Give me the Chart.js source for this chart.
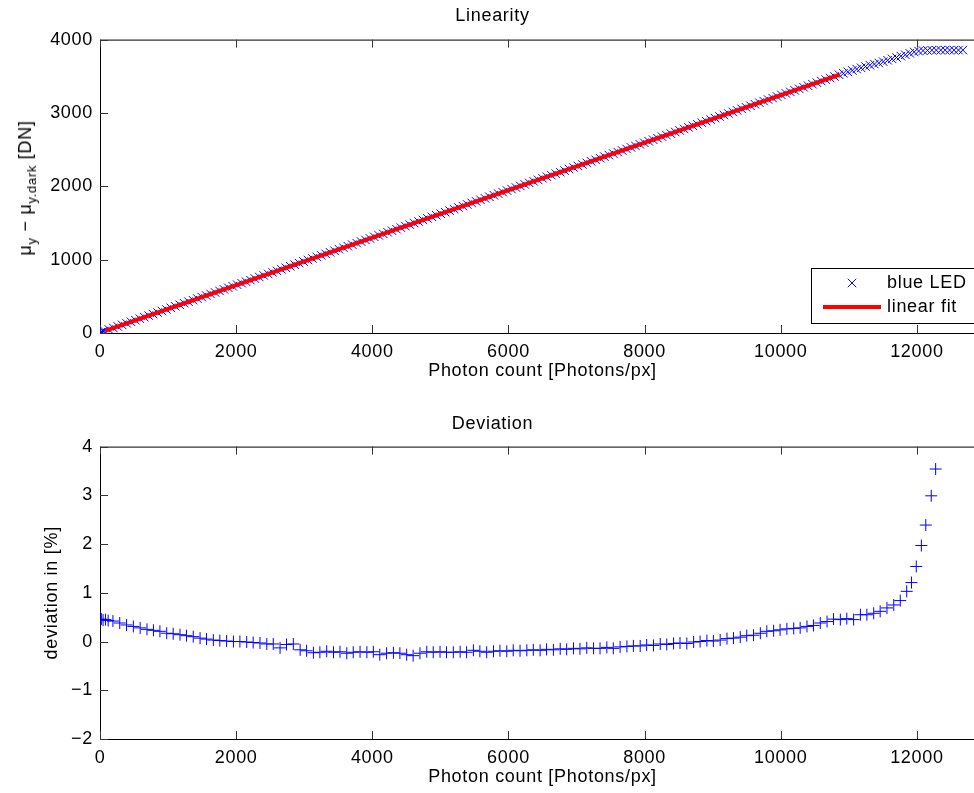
<!DOCTYPE html>
<html>
<head>
<meta charset="utf-8">
<title>Linearity / Deviation</title>
<script src="https://cdn.jsdelivr.net/npm/chart.js"></script>
<style>
  body{margin:0;background:#fff;overflow:hidden;width:974px;height:793px;position:relative;}
  canvas{position:absolute;left:0;}
  #linChart{top:0;}
  #devChart{top:400px;}
  #yLabelTop{position:absolute;left:25px;top:188px;transform:translate(-50%,-50%) rotate(-90deg);
    font:18px "Liberation Sans",Arial,sans-serif;letter-spacing:0.7px;white-space:nowrap;color:#000;line-height:20px;}
  #yLabelTop sub{font-size:13px;line-height:0;}
</style>
</head>
<body>
<canvas id="linChart" width="1000" height="382"></canvas>
<canvas id="devChart" width="1000" height="388"></canvas>
<div id="yLabelTop">&mu;<sub>y</sub> &minus; &mu;<sub>y.dark</sub> [DN]</div>

<script>
// linearity sweep: photon count [Photons/px]
var ledPhotons = [0, 12, 30, 48, 65, 130, 195, 260, 325, 390,
  455, 520, 585, 650, 715, 780, 845, 910, 975, 1040,
  1105, 1170, 1235, 1300, 1365, 1430, 1495, 1560, 1625, 1690,
  1755, 1820, 1885, 1950, 2015, 2080, 2145, 2210, 2275, 2340,
  2405, 2470, 2535, 2600, 2665, 2730, 2795, 2860, 2925, 2990,
  3055, 3120, 3185, 3250, 3315, 3380, 3445, 3510, 3575, 3640,
  3705, 3770, 3835, 3900, 3965, 4030, 4095, 4160, 4225, 4290,
  4355, 4420, 4485, 4550, 4615, 4680, 4745, 4810, 4875, 4940,
  5005, 5070, 5135, 5200, 5265, 5330, 5395, 5460, 5525, 5590,
  5655, 5720, 5785, 5850, 5915, 5980, 6045, 6110, 6175, 6240,
  6305, 6370, 6435, 6500, 6565, 6630, 6695, 6760, 6825, 6890,
  6955, 7020, 7085, 7150, 7215, 7280, 7345, 7410, 7475, 7540,
  7605, 7670, 7735, 7800, 7865, 7930, 7995, 8060, 8125, 8190,
  8255, 8320, 8385, 8450, 8515, 8580, 8645, 8710, 8775, 8840,
  8905, 8970, 9035, 9100, 9165, 9230, 9295, 9360, 9425, 9490,
  9555, 9620, 9685, 9750, 9815, 9880, 9945, 10010, 10075, 10140,
  10205, 10270, 10335, 10400, 10465, 10530, 10595, 10660, 10725, 10790,
  10855, 10920, 10985, 11050, 11115, 11180, 11245, 11310, 11375, 11440,
  11505, 11570, 11635, 11700, 11765, 11830, 11895, 11960, 12025, 12090,
  12155, 12220, 12285, 12350, 12415, 12480, 12545, 12610, 12675];

// mu_y - mu_y.dark [DN] (blue LED)
var ledSignal = [4, 9, 15, 21, 27, 48, 69, 90, 111, 132,
  153, 174, 195, 216, 237, 258, 279, 300, 321, 343,
  364, 385, 406, 427, 448, 469, 490, 511, 532, 553,
  574, 595, 616, 637, 658, 679, 700, 721, 742, 763,
  784, 805, 826, 847, 868, 889, 910, 931, 953, 974,
  995, 1016, 1037, 1058, 1079, 1100, 1121, 1142, 1163, 1184,
  1205, 1226, 1247, 1268, 1289, 1310, 1331, 1352, 1373, 1394,
  1415, 1436, 1457, 1478, 1499, 1520, 1541, 1563, 1584, 1605,
  1626, 1647, 1668, 1689, 1710, 1731, 1752, 1773, 1794, 1815,
  1836, 1857, 1878, 1899, 1920, 1941, 1962, 1983, 2004, 2025,
  2046, 2067, 2088, 2109, 2130, 2151, 2172, 2193, 2214, 2235,
  2256, 2277, 2298, 2319, 2340, 2362, 2383, 2404, 2425, 2446,
  2467, 2488, 2509, 2530, 2551, 2572, 2593, 2614, 2635, 2656,
  2677, 2698, 2719, 2740, 2761, 2782, 2803, 2824, 2845, 2867,
  2888, 2909, 2930, 2951, 2972, 2993, 3014, 3035, 3056, 3077,
  3098, 3119, 3140, 3161, 3182, 3203, 3224, 3245, 3266, 3287,
  3308, 3329, 3350, 3371, 3392, 3413, 3434, 3455, 3476, 3497,
  3522, 3540, 3560, 3580, 3598, 3615, 3633, 3650, 3666, 3681,
  3699, 3718, 3737, 3756, 3774, 3793, 3813, 3831, 3843, 3850,
  3853, 3855, 3856, 3856, 3857, 3857, 3856, 3857, 3857];

// linear fit end points
var fitPhotons = [75, 10865];
var fitSignal = [30, 3522];

// deviation sweep: photon count [Photons/px]
var devPhotons = [0, 20, 45, 80, 120, 190, 290, 390, 490, 590,
  690, 785, 880, 980, 1075, 1175, 1270, 1370, 1470, 1565,
  1665, 1760, 1860, 1960, 2055, 2155, 2250, 2350, 2450, 2545,
  2645, 2740, 2840, 2940, 3035, 3135, 3230, 3330, 3430, 3525,
  3625, 3720, 3820, 3920, 4015, 4110, 4210, 4310, 4405, 4505,
  4600, 4700, 4800, 4895, 4995, 5090, 5190, 5290, 5385, 5485,
  5580, 5680, 5780, 5875, 5975, 6070, 6170, 6270, 6365, 6465,
  6560, 6660, 6760, 6855, 6955, 7050, 7150, 7250, 7345, 7445,
  7540, 7640, 7740, 7835, 7935, 8030, 8130, 8230, 8325, 8425,
  8520, 8620, 8720, 8815, 8915, 9010, 9110, 9210, 9305, 9405,
  9500, 9600, 9700, 9795, 9895, 9990, 10090, 10190, 10285, 10385,
  10480, 10580, 10680, 10775, 10875, 10970, 11070, 11170, 11265, 11365,
  11460, 11560, 11660, 11755, 11850, 11920, 11990, 12065, 12130, 12210,
  12275];

// deviation from the fit [%]
var deviation = [0.45, 0.46, 0.44, 0.45, 0.43, 0.42, 0.38, 0.34, 0.31, 0.28,
  0.25, 0.23, 0.21, 0.17, 0.16, 0.14, 0.12, 0.10, 0.07, 0.05,
  0.03, 0.02, 0.01, 0.00, 0.00, -0.01, -0.02, -0.03, -0.05, -0.05,
  -0.13, -0.06, -0.05, -0.17, -0.19, -0.23, -0.22, -0.20, -0.22, -0.21,
  -0.24, -0.22, -0.21, -0.22, -0.21, -0.27, -0.24, -0.23, -0.24, -0.27,
  -0.29, -0.24, -0.21, -0.22, -0.21, -0.22, -0.22, -0.21, -0.22, -0.18,
  -0.20, -0.22, -0.20, -0.19, -0.20, -0.18, -0.19, -0.18, -0.17, -0.18,
  -0.16, -0.17, -0.15, -0.16, -0.14, -0.15, -0.13, -0.14, -0.14, -0.12,
  -0.14, -0.11, -0.10, -0.09, -0.09, -0.07, -0.08, -0.05, -0.06, -0.04,
  -0.03, -0.04, -0.01, 0.00, 0.02, 0.01, 0.03, 0.06, 0.07, 0.09,
  0.12, 0.13, 0.17, 0.21, 0.22, 0.24, 0.26, 0.27, 0.28, 0.31,
  0.33, 0.38, 0.41, 0.46, 0.45, 0.47, 0.45, 0.55, 0.55, 0.58,
  0.62, 0.69, 0.75, 0.84, 1.03, 1.21, 1.54, 1.97, 2.39, 2.99,
  3.54];

var xTicks = [0, 2000, 4000, 6000, 8000, 10000, 12000];
var linTicks = [0, 1000, 2000, 3000, 4000];
var devTicks = [-2, -1, 0, 1, 2, 3, 4];

var FONT = '"Liberation Sans", Arial, Helvetica, sans-serif';
Chart.defaults.font.family = FONT;
Chart.defaults.font.size = 18;
Chart.defaults.color = '#000';

function toPoints(xs, ys){
  var pts = [];
  for (var i = 0; i < ys.length; i++) {
    pts.push({x: xs[i], y: ys[i]});
  }
  return pts;
}

function plainNumber(v){
  return String(v).replace('-', '\u2212');
}

// matlab style box with ticks pointing inwards
var boxPlugin = {
  id: 'matlabBox',
  beforeDatasetsDraw: function(chart){
    var ctx = chart.ctx;
    var a = chart.chartArea;
    var xs = chart.scales.x, ys = chart.scales.y;
    ctx.save();
    ctx.strokeStyle = '#000';
    ctx.lineWidth = 1;
    ctx.strokeRect(a.left + 0.5, a.top + 0.5, a.right - a.left, a.bottom - a.top);
    ctx.strokeStyle = '#333';
    ctx.beginPath();
    xs.ticks.forEach(function(t){
      var px = Math.round(xs.getPixelForValue(t.value)) + 0.5;
      ctx.moveTo(px, a.bottom); ctx.lineTo(px, a.bottom - 8);
      ctx.moveTo(px, a.top); ctx.lineTo(px, a.top + 8);
    });
    ys.ticks.forEach(function(t){
      var py = Math.round(ys.getPixelForValue(t.value)) + 0.5;
      ctx.moveTo(a.left, py); ctx.lineTo(a.left + 8, py);
      ctx.moveTo(a.right, py); ctx.lineTo(a.right - 8, py);
    });
    ctx.stroke();
    ctx.restore();
  }
};

// legend box inside the axes, bottom right
var legendPlugin = {
  id: 'boxLegend',
  afterDraw: function(chart){
    var ctx = chart.ctx;
    var a = chart.chartArea;
    var x0 = a.right - 174, y0 = a.bottom - 65;
    ctx.save();
    ctx.fillStyle = '#fff';
    ctx.fillRect(x0, y0, 168, 55);
    ctx.strokeStyle = '#000';
    ctx.lineWidth = 1;
    ctx.strokeRect(x0 + 0.5, y0 + 0.5, 168, 55);
    chart.data.datasets.forEach(function(ds, i){
      var cy = y0 + 15 + i * 24;
      if (ds.showLine) {
        ctx.strokeStyle = ds.borderColor;
        ctx.lineWidth = ds.borderWidth;
        ctx.beginPath();
        ctx.moveTo(x0 + 12, cy);
        ctx.lineTo(x0 + 70, cy);
        ctx.stroke();
      } else {
        ctx.strokeStyle = ds.pointBorderColor;
        ctx.lineWidth = 1;
        Chart.helpers.drawPoint(ctx, {pointStyle: ds.pointStyle, radius: ds.pointRadius, borderWidth: 1, rotation: 0}, x0 + 41, cy);
      }
      ctx.fillStyle = '#000';
      ctx.font = '18px ' + FONT;
      ctx.textBaseline = 'middle';
      ctx.textAlign = 'left';
      ctx.fillText(ds.label, x0 + 76, cy);
    });
    ctx.restore();
  }
};

// text in the reference is set a bit wider than Arial
var spacingPlugin = {
  id: 'spacing',
  beforeLayout: function(chart){ chart.ctx.letterSpacing = '0.7px'; },
  beforeDraw: function(chart){ chart.ctx.letterSpacing = '0.7px'; }
};

function xScale(){
  return {
    type: 'linear',
    position: 'bottom',
    min: 0,
    max: 13000,
    afterFit: function(scale){ scale.height = 49; },
    afterBuildTicks: function(scale){
      scale.ticks = xTicks.map(function(v){ return {value: v}; });
    },
    ticks: {padding: 8, maxRotation: 0, autoSkip: false, callback: plainNumber},
    grid: {display: false, drawTicks: false},
    border: {display: false},
    title: {display: true, text: 'Photon count [Photons/px]', padding: {top: 0, bottom: 0}}
  };
}

function yScale(lo, hi, tickList, title){
  var s = {
    type: 'linear',
    min: lo,
    max: hi,
    afterFit: function(scale){ scale.width = 100; },
    afterBuildTicks: function(scale){
      scale.ticks = tickList.map(function(v){ return {value: v}; });
    },
    ticks: {padding: 7, autoSkip: false, callback: plainNumber},
    grid: {display: false, drawTicks: false},
    border: {display: false}
  };
  if (title) {
    s.title = {display: true, text: title, padding: {top: 41, bottom: 0}};
  }
  return s;
}

function showLinearity(){
  var data1 = {
    datasets: [{
      label: 'blue LED',
      data: toPoints(ledPhotons, ledSignal),
      showLine: false,
      pointStyle: 'crossRot',
      pointRadius: 6,
      pointBorderWidth: 1,
      pointBorderColor: '#0000ff',
      borderColor: '#0000ff',
      order: 1
    }, {
      label: 'linear fit',
      data: toPoints(fitPhotons, fitSignal),
      showLine: true,
      borderColor: '#ff0000',
      borderWidth: 4,
      pointRadius: 0,
      order: 0
    }]
  };//end data1
  var options = {
    responsive: false,
    animation: false,
    events: [],
    layout: {padding: {left: 0, right: 15, top: 0, bottom: 0}},
    plugins: {
      legend: {display: false},
      tooltip: {enabled: false},
      title: {display: true, text: 'Linearity', font: {size: 18, weight: 'normal'}, padding: {top: 5, bottom: 13}}
    },
    scales: {
      x: xScale(),
      y: yScale(0, 4000, linTicks, null)
    }
  };//end options
  new Chart(document.getElementById('linChart'), {
    type: 'scatter',
    data: data1,
    options: options,
    plugins: [spacingPlugin, boxPlugin, legendPlugin]
  });
}

function showDeviation(){
  var data1 = {
    datasets: [{
      label: 'deviation',
      data: toPoints(devPhotons, deviation),
      showLine: false,
      pointStyle: 'cross',
      pointRadius: 6,
      pointBorderWidth: 1,
      pointBorderColor: '#0000ff',
      borderColor: '#0000ff'
    }]
  };//end data1
  var options = {
    responsive: false,
    animation: false,
    events: [],
    layout: {padding: {left: 0, right: 15, top: 0, bottom: 0}},
    plugins: {
      legend: {display: false},
      tooltip: {enabled: false},
      title: {display: true, text: 'Deviation', font: {size: 18, weight: 'normal'}, padding: {top: 13, bottom: 12}}
    },
    scales: {
      x: xScale(),
      y: yScale(-2, 4, devTicks, 'deviation in [%]')
    }
  };//end options
  new Chart(document.getElementById('devChart'), {
    type: 'scatter',
    data: data1,
    options: options,
    plugins: [spacingPlugin, boxPlugin]
  });
}

showLinearity();
showDeviation();
</script>
</body>
</html>
